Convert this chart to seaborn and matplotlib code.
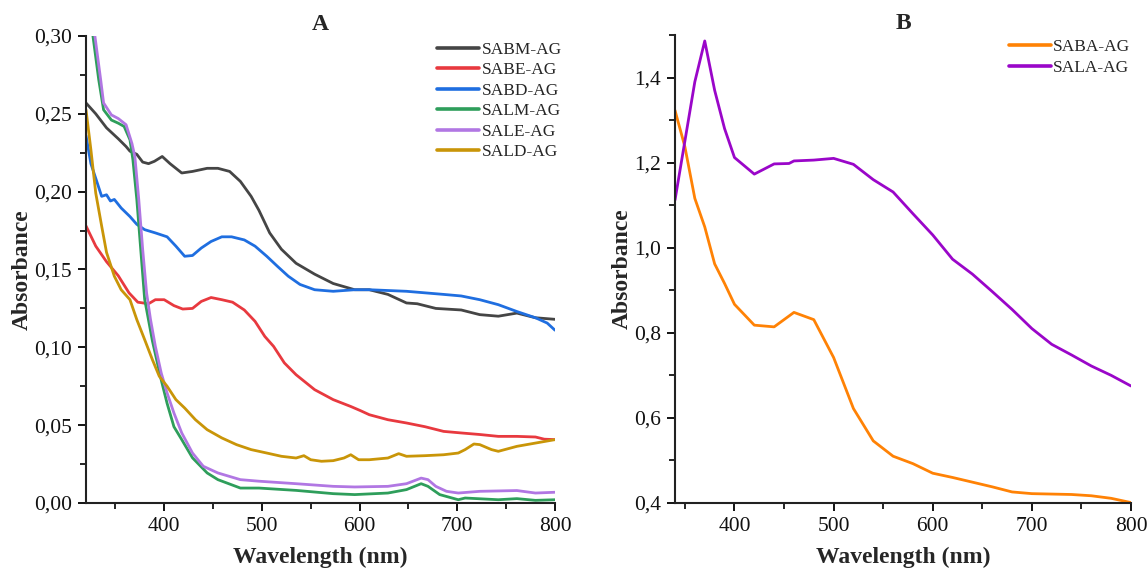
import numpy as np
import pandas as pd
import matplotlib
matplotlib.use("Agg")
import matplotlib.pyplot as plt
from matplotlib.ticker import MultipleLocator, FuncFormatter
import seaborn as sns

# ---------------- Panel A data ----------------
sabm_x = [320, 330, 341, 353, 361, 365, 372, 378, 384, 390, 398, 406, 418, 429, 444, 455, 467, 478, 489,
          497, 508, 520, 535, 554, 573, 595, 610, 629, 648, 659, 678, 704, 723, 742, 761, 780, 800]
sabm_y = [0.257, 0.250, 0.241, 0.234, 0.229, 0.226, 0.224, 0.219, 0.218, 0.2195, 0.2226, 0.218, 0.212,
          0.213, 0.215, 0.215, 0.213, 0.2066, 0.197, 0.188, 0.1735, 0.163, 0.154, 0.147, 0.141, 0.137,
          0.137, 0.134, 0.1285, 0.128, 0.125, 0.124, 0.121, 0.120, 0.122, 0.119, 0.118]

sabe_x = [320, 330, 341, 353, 364, 373, 384, 391, 400, 410, 419, 429, 438, 448, 459, 470, 482, 493, 503,
          512, 523, 535, 554, 573, 591, 601, 610, 629, 648, 667, 686, 704, 723, 742, 761, 780, 789, 800]
sabe_y = [0.178, 0.165, 0.155, 0.146, 0.135, 0.129, 0.128, 0.1306, 0.1306, 0.1268, 0.1246, 0.125, 0.1295,
          0.132, 0.1306, 0.129, 0.124, 0.1167, 0.107, 0.1006, 0.090, 0.0824, 0.0728, 0.0664, 0.062,
          0.0593, 0.0567, 0.0535, 0.0514, 0.049, 0.046, 0.045, 0.044, 0.0428, 0.0428, 0.0424, 0.041, 0.0407]

sabd_x = [320, 325, 331, 336, 341, 345, 349, 356, 365, 372, 380, 391, 403, 412, 421, 429, 438, 448, 459,
          469, 482, 493, 505, 516, 527, 539, 554, 573, 595, 610, 648, 667, 686, 704, 723, 742, 761, 780,
          792, 800]
sabd_y = [0.236, 0.218, 0.2066, 0.197, 0.198, 0.194, 0.195, 0.1895, 0.184, 0.179, 0.1756, 0.1735, 0.171,
          0.165, 0.1585, 0.159, 0.1638, 0.168, 0.171, 0.171, 0.169, 0.165, 0.1585, 0.152, 0.1457, 0.1404,
          0.137, 0.136, 0.137, 0.137, 0.136, 0.135, 0.134, 0.133, 0.1306, 0.1274, 0.123, 0.119, 0.1156,
          0.111]

salm_x = [325, 333, 338, 346, 353, 359, 365, 368, 372, 376, 380, 388, 397, 403, 410, 418, 429, 444, 455,
          478, 497, 535, 573, 595, 629, 648, 663, 670, 682, 701, 708, 742, 761, 780, 800]
salm_y = [0.31, 0.272, 0.2526, 0.246, 0.244, 0.2419, 0.2333, 0.2205, 0.195, 0.163, 0.131, 0.104, 0.079,
          0.064, 0.049, 0.0407, 0.029, 0.0193, 0.015, 0.0096, 0.0096, 0.0081, 0.006, 0.0054, 0.0064,
          0.0086, 0.0124, 0.0107, 0.0054, 0.0021, 0.0032, 0.0021, 0.0028, 0.0017, 0.0021]

sale_x = [327, 335, 338, 346, 353, 361, 367, 370, 374, 378, 382, 386, 391, 397, 403, 410, 418, 429, 440,
          455, 478, 497, 535, 573, 595, 629, 648, 663, 670, 678, 689, 701, 723, 761, 780, 800]
sale_y = [0.31, 0.272, 0.257, 0.2493, 0.247, 0.243, 0.231, 0.2226, 0.195, 0.163, 0.135, 0.118, 0.1006,
          0.0835, 0.0707, 0.0578, 0.045, 0.0321, 0.0236, 0.0193, 0.015, 0.014, 0.0124, 0.0107, 0.0103,
          0.0107, 0.0124, 0.016, 0.015, 0.0107, 0.0075, 0.0064, 0.0075, 0.008, 0.0064, 0.0069]

sald_x = [320, 325, 330, 336, 341, 349, 356, 365, 372, 380, 388, 395, 403, 412, 421, 432, 444, 459, 474,
          489, 505, 520, 535, 543, 550, 561, 573, 584, 591, 599, 610, 629, 640, 648, 667, 686, 701, 708,
          717, 723, 735, 742, 761, 780, 800]
sald_y = [0.2526, 0.227, 0.199, 0.178, 0.161, 0.1457, 0.137, 0.1306, 0.1178, 0.105, 0.092, 0.0814, 0.075,
          0.0664, 0.061, 0.0535, 0.0471, 0.0418, 0.0375, 0.0343, 0.0321, 0.030, 0.0289, 0.0304, 0.0278,
          0.0268, 0.0272, 0.0289, 0.031, 0.0278, 0.0278, 0.0289, 0.0317, 0.030, 0.0304, 0.031, 0.0321,
          0.0343, 0.0379, 0.0375, 0.0343, 0.0332, 0.0364, 0.0385, 0.0407]

# ---------------- Panel B data ----------------
saba_x = [340, 350, 360, 370, 380, 390, 400, 420, 440, 460, 480, 500, 520, 540, 560, 580, 600, 620, 640,
          660, 680, 700, 720, 740, 760, 780, 800]
saba_y = [1.323, 1.237, 1.116, 1.049, 0.962, 0.916, 0.867, 0.818, 0.814, 0.848, 0.831, 0.742, 0.622, 0.546,
          0.510, 0.4925, 0.470, 0.460, 0.449, 0.438, 0.426, 0.422, 0.421, 0.420, 0.417, 0.411, 0.401]

sala_x = [340, 360, 370, 380, 390, 400, 420, 440, 455, 460, 480, 500, 520, 540, 560, 580, 600, 620, 640,
          660, 680, 700, 720, 740, 760, 780, 800]
sala_y = [1.112, 1.39, 1.486, 1.37, 1.28, 1.212, 1.173, 1.197, 1.198, 1.204, 1.206, 1.210, 1.196, 1.160,
          1.131, 1.080, 1.030, 0.973, 0.938, 0.897, 0.855, 0.810, 0.773, 0.748, 0.722, 0.700, 0.675]

series_a = [("SABM-AG", sabm_x, sabm_y), ("SABE-AG", sabe_x, sabe_y), ("SABD-AG", sabd_x, sabd_y),
            ("SALM-AG", salm_x, salm_y), ("SALE-AG", sale_x, sale_y), ("SALD-AG", sald_x, sald_y)]
series_b = [("SABA-AG", saba_x, saba_y), ("SALA-AG", sala_x, sala_y)]

colors_a = {"SABM-AG": "#454545", "SABE-AG": "#e8393f", "SABD-AG": "#1f6ee0",
            "SALM-AG": "#2e9e5b", "SALE-AG": "#b177e3", "SALD-AG": "#c99508"}
colors_b = {"SABA-AG": "#ff8205", "SALA-AG": "#9a06c9"}

df_a = pd.concat([pd.DataFrame({"x": x, "y": y, "s": n}) for n, x, y in series_a], ignore_index=True)
df_b = pd.concat([pd.DataFrame({"x": x, "y": y, "s": n}) for n, x, y in series_b], ignore_index=True)

sns.set_theme(style="ticks")
plt.rcParams["font.family"] = ["Liberation Serif", "DejaVu Serif"]

fig = plt.figure(figsize=(11.47, 5.75), dpi=100)
axA = fig.add_axes([86/1147, 1-503/575, (555-86)/1147, (503-36)/575])
axB = fig.add_axes([675/1147, 1-503/575, (1131-675)/1147, (503-35)/575])

sns.lineplot(data=df_a, x="x", y="y", hue="s", palette=colors_a, sort=False, estimator=None,
             ax=axA, linewidth=2.0)
sns.lineplot(data=df_b, x="x", y="y", hue="s", palette=colors_b, sort=False, estimator=None,
             ax=axB, linewidth=2.0)
for ln in axA.get_lines():
    if ln.get_label() == "SABE-AG":
        ln.set_linewidth(1.8)

axA.set_xlim(320, 800)
axA.set_ylim(0, 0.30)
axB.set_xlim(340, 800)
axB.set_ylim(0.4, 1.5)

fmtA = FuncFormatter(lambda v, p: f"{v:.2f}".replace(".", ","))
fmtB = FuncFormatter(lambda v, p: f"{v:.1f}".replace(".", ","))
axA.yaxis.set_major_locator(MultipleLocator(0.05))
axA.yaxis.set_minor_locator(MultipleLocator(0.025))
axA.yaxis.set_major_formatter(fmtA)
axB.yaxis.set_major_locator(MultipleLocator(0.2))
axB.yaxis.set_minor_locator(MultipleLocator(0.1))
axB.yaxis.set_major_formatter(fmtB)

for ax, title in ((axA, "A"), (axB, "B")):
    ax.xaxis.set_major_locator(MultipleLocator(100))
    ax.xaxis.set_minor_locator(MultipleLocator(50))
    ax.tick_params(which="major", direction="out", length=6, width=1.3, labelsize=15.5, colors="black",
                   labelcolor="#111111", pad=4)
    ax.tick_params(which="minor", direction="out", length=4, width=1.2, colors="black")
    for s in ("top", "right"):
        ax.spines[s].set_visible(False)
    for s in ("left", "bottom"):
        ax.spines[s].set_linewidth(1.5)
        ax.spines[s].set_color("#222222")
    ax.set_xlabel("Wavelength (nm)", fontsize=17, fontweight="bold", labelpad=8)
    ax.set_ylabel("Absorbance", fontsize=17, fontweight="bold", labelpad=1)
    ax.set_title(title, fontsize=17, fontweight="bold", pad=4)
    ax.set_facecolor("white")

axA.legend(loc="upper right", bbox_to_anchor=(1.04, 1.014), frameon=False, fontsize=12.5,
           handlelength=2.4, handletextpad=0.15, labelspacing=0.25, borderaxespad=0.3)
axB.legend(loc="upper right", bbox_to_anchor=(1.025, 1.017), frameon=False, fontsize=12.5,
           handlelength=2.4, handletextpad=0.15, labelspacing=0.25, borderaxespad=0.3)
for lg in (axA.get_legend(), axB.get_legend()):
    for h in lg.legend_handles:
        h.set_linewidth(2.6)

fig.savefig("out.png", dpi=100, facecolor="white")
